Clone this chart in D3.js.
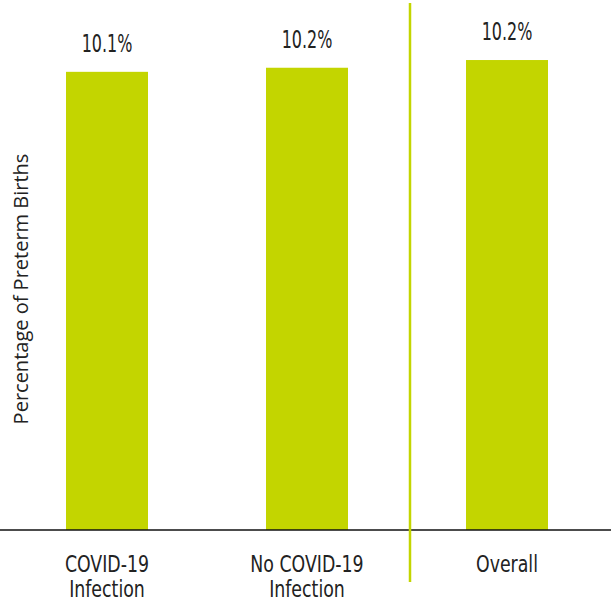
<!DOCTYPE html>
<html>
<head>
  <meta charset="utf-8">
  <script src="https://cdn.jsdelivr.net/npm/d3@7"></script>
  <style>
    body { margin: 0; background: #fff; }
    .val { font-family: "DejaVu Sans Condensed", "DejaVu Sans", sans-serif; font-size: 24px; fill: #222; }
    .cat { font-family: "DejaVu Sans Condensed", "DejaVu Sans", sans-serif; font-size: 23px; fill: #222; }
    .ylab { font-family: "Open Sans", sans-serif; font-size: 20px; fill: #222; }
  </style>
</head>
<body>
  <div id="chart"></div>
  <script>
    var categories = ["COVID-19|Infection", "No COVID-19|Infection", "Overall"];
    var values = [10.1, 10.19, 10.36];
    var valueLabels = ["10.1%", "10.2%", "10.2%"];

    var width = 611, height = 603;
    var baseY = 530;

    var svg = d3.select("#chart").append("svg")
      .attr("width", width)
      .attr("height", height);

    var x = d3.scaleBand()
      .domain(categories)
      .range([7, 607])
      .paddingInner(0.59)
      .paddingOuter(0.295);

    var y = d3.scaleLinear()
      .domain([0, 11])
      .range([baseY, 31]);

    var green = "#c3d500";

    svg.selectAll("rect.bar")
      .data(values)
      .enter().append("rect")
      .attr("class", "bar")
      .attr("x", function (d, i) { return x(categories[i]); })
      .attr("y", function (d) { return y(d); })
      .attr("width", x.bandwidth())
      .attr("height", function (d) { return y(0) - y(d); })
      .style("fill", green);

    // value labels, squeezed to match the narrow face of the original
    svg.selectAll("text.val")
      .data(values)
      .enter().append("text")
      .attr("class", "val")
      .attr("text-anchor", "middle")
      .attr("transform", function (d, i) {
        return "translate(" + (x(categories[i]) + x.bandwidth() / 2) + "," + (y(d) - 20) + ") scale(0.74,1)";
      })
      .text(function (d, i) { return valueLabels[i]; });

    // baseline
    svg.append("line")
      .attr("x1", 0).attr("x2", width)
      .attr("y1", y(0)).attr("y2", y(0))
      .style("stroke", "#111")
      .style("stroke-width", 1.5);

    // divider between groups and overall
    var divX = (x(categories[1]) + x.bandwidth() + x(categories[2])) / 2 + 3;
    svg.append("line")
      .attr("x1", divX).attr("x2", divX)
      .attr("y1", 3).attr("y2", 582)
      .style("stroke", green)
      .style("stroke-width", 2.5);

    // category labels
    var cat = svg.selectAll("text.cat")
      .data(categories)
      .enter().append("text")
      .attr("class", "cat")
      .attr("text-anchor", "middle")
      .attr("transform", function (d) { return "translate(" + (x(d) + x.bandwidth() / 2) + ",572) scale(0.84,1)"; });

    cat.selectAll("tspan")
      .data(function (d) { return d.split("|"); })
      .enter().append("tspan")
      .attr("x", 0)
      .attr("dy", function (d, i) { return i === 0 ? 0 : 25; })
      .text(function (d) { return d; });

    svg.append("text")
      .attr("class", "ylab")
      .attr("text-anchor", "middle")
      .attr("transform", "translate(28,289) rotate(-90)")
      .text("Percentage of Preterm Births");
  </script>
</body>
</html>
